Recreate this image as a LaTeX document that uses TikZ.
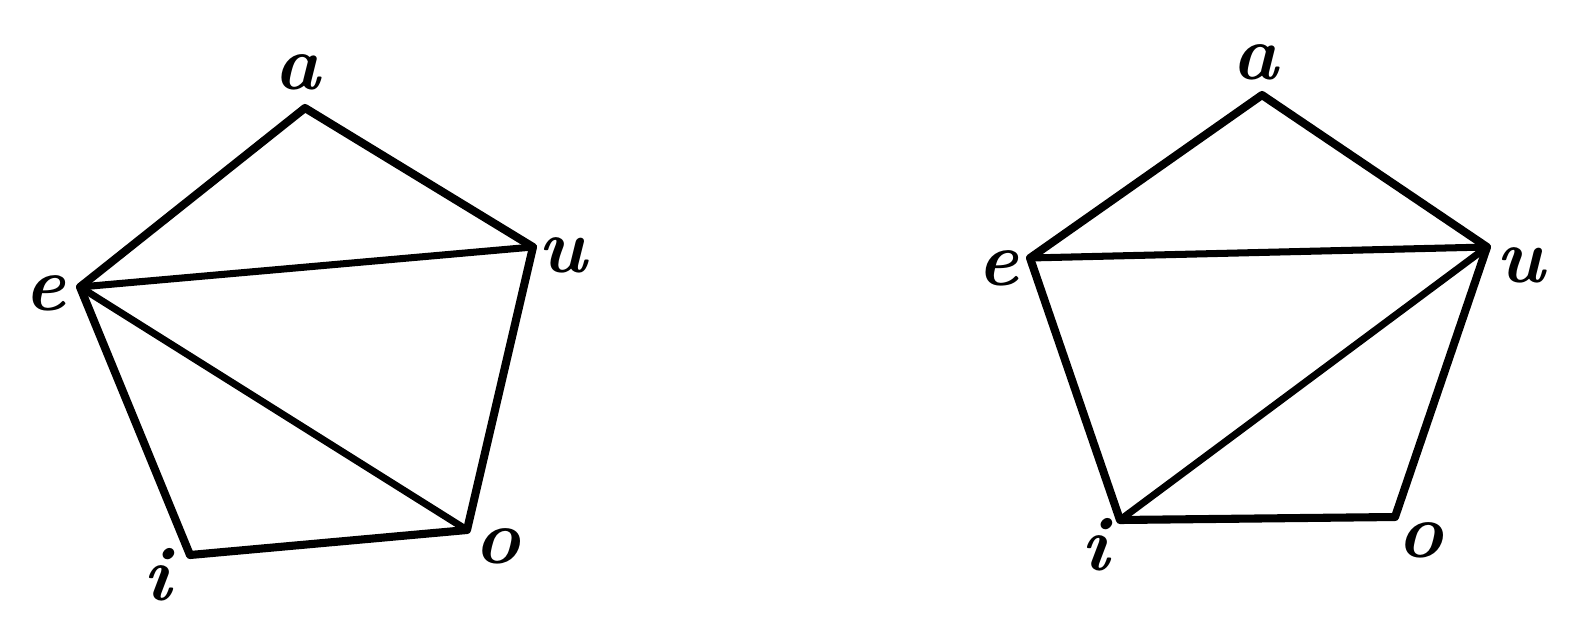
\documentclass[tikz,border=0pt]{standalone}
\usepackage{tikz}
\usepackage{amsmath}

\tikzset{
  edge/.style={line width=4.6pt, line join=round, line cap=round},
  diag/.style={line width=4pt, line cap=round},
  lbl/.style={font=\fontsize{44}{44}\selectfont\bfseries\itshape, inner sep=0pt}
}

\begin{document}
\begin{tikzpicture}[x=0.02cm, y=-0.02cm]
    \useasboundingbox (0,0) rectangle (1585,632);
    % left pentagon
    \coordinate (la) at (305,108);
    \coordinate (lu) at (533,247);
    \coordinate (lo) at (467,530);
    \coordinate (li) at (190,555);
    \coordinate (le) at (80,287);
    \draw[edge] (la) -- (lu) -- (lo) -- (li) -- (le) -- cycle;
    \draw[diag] (le) -- (lu);
    \draw[diag] (le) -- (lo);
    \node[lbl] (lla) at (297,72) {a};
    \node[lbl] (llu) at (562,255) {u};
    \node[lbl] (llo) at (497,546) {o};
    \node[lbl] (lli) at (157,575) {i};
    \node[lbl] (lle) at (45,293) {e};
    % right pentagon
    \coordinate (ra) at (1262,95);
    \coordinate (ru) at (1487,247);
    \coordinate (ro) at (1395,517);
    \coordinate (ri) at (1120,520);
    \coordinate (re) at (1030,258);
    \draw[edge] (ra) -- (ru) -- (ro) -- (ri) -- (re) -- cycle;
    \draw[diag] (re) -- (ru);
    \draw[diag] (ri) -- (ru);
    \node[lbl] (rla) at (1255,62) {a};
    \node[lbl] (rlu) at (1520,265) {u};
    \node[lbl] (rlo) at (1420,540) {o};
    \node[lbl] (rli) at (1095,545) {i};
    \node[lbl] (rle) at (998,268) {e};
\end{tikzpicture}
\end{document}
